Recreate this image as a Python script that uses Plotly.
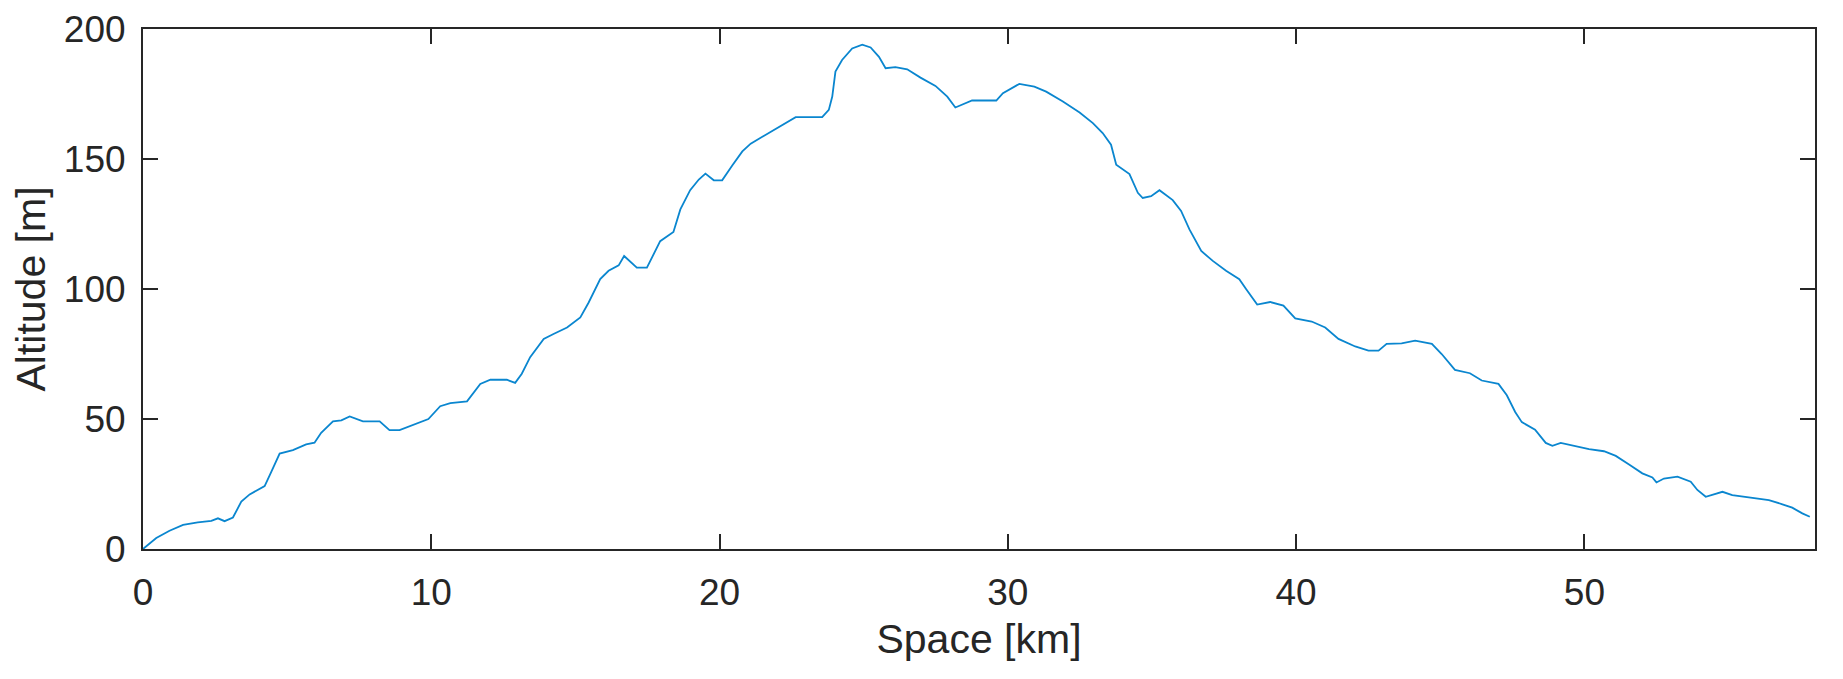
import plotly.graph_objects as go

space_km = [0, 0.46, 0.92, 1.39, 1.9, 2.37, 2.6, 2.83, 3.12, 3.41, 3.7, 4.22, 4.45, 4.74, 5.2, 5.66, 5.95,
            6.18, 6.59, 6.88, 7.17, 7.63, 8.21, 8.55, 8.9, 9.48, 9.9, 10.31, 10.66, 11.24, 11.7, 12.05,
            12.62, 12.91, 13.14, 13.43, 13.9, 14.24, 14.71, 15.17, 15.46, 15.86, 16.15, 16.5, 16.69,
            17.13, 17.48, 17.94, 18.4, 18.64, 18.98, 19.28, 19.51, 19.8, 20.09, 20.44, 20.79, 21.08,
            21.6, 22.06, 22.64, 23.56, 23.79, 23.91, 24.02, 24.25, 24.6, 24.95, 25.24, 25.53, 25.76,
            26.1, 26.51, 26.97, 27.49, 27.9, 28.18, 28.76, 29.34, 29.6, 29.83, 30.4, 30.92, 31.33,
            31.91, 32.49, 32.95, 33.29, 33.58, 33.76, 34.22, 34.51, 34.68, 34.97, 35.26, 35.72, 36.01,
            36.3, 36.71, 37.11, 37.57, 38.03, 38.27, 38.65, 39.1, 39.56, 39.97, 40.54, 41.01, 41.47,
            42.05, 42.51, 42.86, 43.14, 43.66, 44.13, 44.71, 45.05, 45.51, 46.03, 46.44, 47.02, 47.31,
            47.6, 47.83, 48.29, 48.66, 48.89, 49.18, 49.58, 50.16, 50.68, 51.09, 51.55, 52.01, 52.36,
            52.5, 52.76, 53.23, 53.69, 53.92, 54.21, 54.5, 54.79, 55.13, 55.83, 56.4, 56.87, 57.21,
            57.56, 57.82]

altitude_m = [0, 4.2, 7, 9.3, 10.2, 10.8, 11.8, 10.7, 12.1, 18.2, 21, 24.2, 29.7, 36.7, 38, 40.2, 40.9,
              44.7, 49.1, 49.5, 51, 49.1, 49.1, 45.7, 45.7, 48.2, 50, 54.9, 56.1, 56.8, 63.5, 65.1,
              65.1, 63.9, 67.4, 73.8, 80.8, 82.7, 85.2, 89.1, 94.8, 103.8, 107, 109.1, 112.7,
              108.2, 108.2, 118.4, 121.9, 130.6, 138, 142.1, 144.4, 141.8, 141.8, 147.5, 152.9, 155.9,
              159.3, 162.3, 166.1, 166.1, 168.9, 174, 183.6, 188.1, 192.5, 194, 192.9, 189.3, 184.9,
              185.3, 184.5, 181.3, 178.1, 174, 169.8, 172.5, 172.5, 172.5, 175.3, 178.9, 177.8, 175.9,
              172.1, 167.9, 163.8, 160, 155.5, 147.8, 144.2, 137, 135, 135.7, 138, 134.2, 130,
              122.9, 114.6, 110.8, 107, 103.8, 99.9, 94.0, 95.0, 93.6, 88.7, 87.5, 85.2, 80.8,
              77.9, 76.3, 76.3, 78.9, 79.1, 80.1, 78.9, 75, 68.9, 67.6, 64.8, 63.5, 59.1,
              52.7, 48.8, 45.9, 40.8, 39.7, 40.8, 39.7, 38.4, 37.6, 35.8, 32.5, 29.1, 27.5,
              25.6, 27.1, 27.8, 25.9, 22.7, 20.1, 21, 22, 20.7, 19.7, 18.8, 17.2, 15.9,
              13.7, 12.4]

x_ticks = [0, 10, 20, 30, 40, 50]
y_ticks = [0, 50, 100, 150, 200]

AX = "#262626"
FONT = "Liberation Sans, Arial, Helvetica, sans-serif"

fig = go.Figure()
fig.add_trace(go.Scatter(x=space_km, y=altitude_m, mode="lines",
                         line=dict(color="#0a86cf", width=1.8), showlegend=False))

axis_common = dict(showline=True, linecolor=AX, linewidth=2, mirror="ticks",
                   ticks="inside", ticklen=15, tickwidth=2, tickcolor=AX,
                   showgrid=False, zeroline=False, automargin=False,
                   tickfont=dict(family=FONT, size=37, color=AX))

fig.update_xaxes(range=[0, 58], tickvals=x_ticks, ticklabelstandoff=10,
                 title=dict(text="Space [km]", font=dict(family=FONT, size=41, color=AX), standoff=12),
                 **axis_common)
fig.update_yaxes(range=[0, 200], tickvals=y_ticks, ticklabelstandoff=8,
                 title=dict(text="Altitude [m]", font=dict(family=FONT, size=41, color=AX), standoff=8),
                 **axis_common)

# the page body has an 8px default margin, so the figure is sized to fill the remaining window
fig.update_layout(width=1835, height=671, plot_bgcolor="white", paper_bgcolor="white",
                  margin=dict(l=135, r=28, t=21, b=130))

fig.write_html("out.html")
